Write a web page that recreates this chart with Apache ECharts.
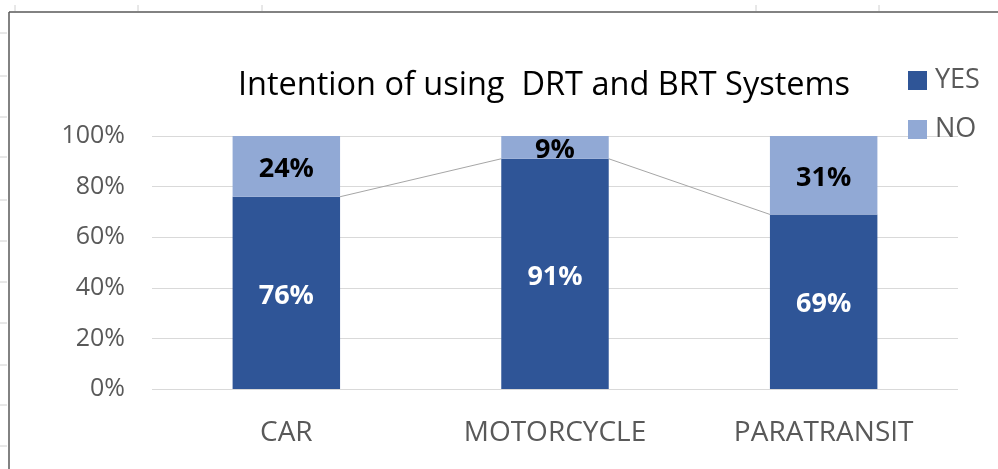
<!DOCTYPE html>
<html><head><meta charset="utf-8">
<script src="https://cdn.jsdelivr.net/npm/echarts@6/dist/echarts.min.js"></script>
<style>html,body{margin:0;padding:0;background:#fff}#c{width:998px;height:469px}</style>
</head><body><div id="c"></div>
<script>
const categories = ['CAR', 'MOTORCYCLE', 'PARATRANSIT'];
const yesValues = [76, 91, 69];
const noValues = [24, 9, 31];
const yTicks = [0, 20, 40, 60, 80, 100];
const titleText = 'Intention of using  DRT and BRT Systems';

const chart = echarts.init(document.getElementById('c'));
const font = '"Open Sans", "Noto Sans", sans-serif';
const BAR_FRAC = 0.4;

const deco = [];
deco.push({type:'line', shape:{x1:9,y1:12,x2:998,y2:12}, style:{stroke:'#595959', lineWidth:1.5}, silent:true});
deco.push({type:'line', shape:{x1:9,y1:12,x2:9,y2:469}, style:{stroke:'#595959', lineWidth:1.5}, silent:true});
[15,138,262,756,879].forEach(x=>deco.push({type:'line', shape:{x1:x,y1:5,x2:x,y2:11}, style:{stroke:'#d0d0d0', lineWidth:1}, silent:true}));
[33,76,117,157,200,241,282,323,365,405,446].forEach(y=>deco.push({type:'line', shape:{x1:0,y1:y,x2:7,y2:y}, style:{stroke:'#d0d0d0', lineWidth:1}, silent:true}));

chart.setOption({
  animation:false,
  backgroundColor:'#fff',
  title:{text:titleText, left:539, top:64, textAlign:'center',
    textStyle:{fontFamily:font, fontSize:32.5, fontWeight:'normal', color:'#000'}},
  legend:{orient:'vertical', left:903, top:62, itemGap:22, itemWidth:19, itemHeight:19,
    icon:'rect', textStyle:{fontFamily:font, fontSize:27, color:'#595959', padding:[0,0,0,3]},
    data:['YES','NO']},
  grid:{left:152, right:40, top:136, bottom:80},
  xAxis:{type:'category', data:categories, axisLine:{show:false}, axisTick:{show:false},
    axisLabel:{fontFamily:font, fontSize:28, color:'#595959', margin:30}},
  yAxis:{type:'value', min:0, max:100, interval:20,
    axisLabel:{fontFamily:font, fontSize:25, color:'#595959', margin:27, formatter:v=>v+'%'},
    splitLine:{lineStyle:{color:'#d9d9d9', width:1}}, axisLine:{show:false}, axisTick:{show:false}},
  series:[
    {name:'YES', type:'bar', stack:'s', data:yesValues, barWidth:(BAR_FRAC*100)+'%',
      itemStyle:{color:'#2F5597'},
      label:{show:true, position:'inside', offset:[0,3], formatter:'{c}%', fontFamily:font, fontSize:27, fontWeight:'bold', color:'#fff'}},
    {name:'NO', type:'bar', stack:'s', data:noValues, barWidth:(BAR_FRAC*100)+'%',
      itemStyle:{color:'#91A9D5'},
      label:{show:true, position:'inside', offset:[0,3], formatter:'{c}%', fontFamily:font, fontSize:27, fontWeight:'bold', color:'#000'}},
    {name:'serieslines', type:'custom', data:yesValues.slice(0,-1).map((v,i)=>[i,v,yesValues[i+1]]),
      z:1, silent:true,
      renderItem:function(params, api){
        const i = api.value(0);
        const band = api.size([1,0])[0];
        const half = band*BAR_FRAC/2;
        const p1 = api.coord([i, api.value(1)]);
        const p2 = api.coord([i+1, api.value(2)]);
        return {type:'line', shape:{x1:p1[0]+half, y1:p1[1], x2:p2[0]-half, y2:p2[1]},
          style:{stroke:'#A6A6A6', lineWidth:1}};
      }}
  ],
  graphic:deco
});
</script></body></html>
